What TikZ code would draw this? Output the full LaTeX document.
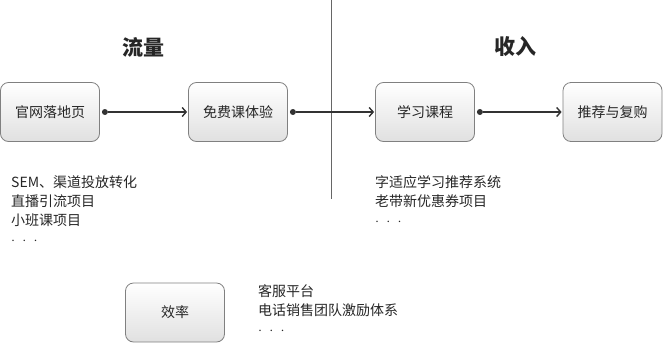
\documentclass[tikz,border=0pt]{standalone}
\usepackage{fontspec}
\setmainfont{Noto Sans CJK SC}
\usetikzlibrary{arrows.meta}
\newcommand{\moredots}{$\cdot\;\cdot\;\cdot$}
\begin{document}
\begin{tikzpicture}[x=1pt,y=-1pt,
  stagebox/.style={draw=black!50, line width=0.8pt, rounded corners=8pt, top color=white, bottom color=black!12,
    minimum width=99pt, minimum height=59pt, inner sep=0pt, font=\fontsize{14}{16}\selectfont, text=black!85},
  flow/.style={draw=black!80, line width=1.6pt, {Circle[length=6pt,width=6pt,line width=0pt]}-{Straight Barb[length=4pt,width=9pt,line width=1.4pt]}, shorten <=2pt, shorten >=1pt},
  title/.style={font=\fontsize{21}{24}\selectfont\bfseries, text=black!85},
  notes/.style={align=left, anchor=north west, inner sep=0pt, font=\fontsize{14}{19}\selectfont, text=black!85}]
\useasboundingbox (0,0) rectangle (663,343);
\node[stagebox] (a) at (50,112) {官网落地页};
\node[stagebox] (b) at (238,112) {免费课体验};
\node[stagebox] (c) at (425,112) {学习课程};
\node[stagebox] (d) at (612.5,112) {推荐与复购};
\node[stagebox] (e) at (175,312.5) {效率};
\node[title] (t1) at (143,47) {流量};
\node[title] (t2) at (515,47) {收入};
\coordinate (v1) at (331,0);
\coordinate (v2) at (331,199);
\draw[black!60, line width=0.8pt] (v1) -- (v2);
\draw[flow] (a) -- (b);
\draw[flow] (b) -- (c);
\draw[flow] (c) -- (d);
\node[notes] (n1) at (11,175) {SEM、渠道投放转化\\直播引流项目\\小班课项目\\\moredots};
\node[notes] (n2) at (375,175) {字适应学习推荐系统\\老带新优惠券项目\\\moredots};
\node[notes] (n3) at (258,284) {客服平台\\电话销售团队激励体系\\\moredots};
\end{tikzpicture}
\end{document}
